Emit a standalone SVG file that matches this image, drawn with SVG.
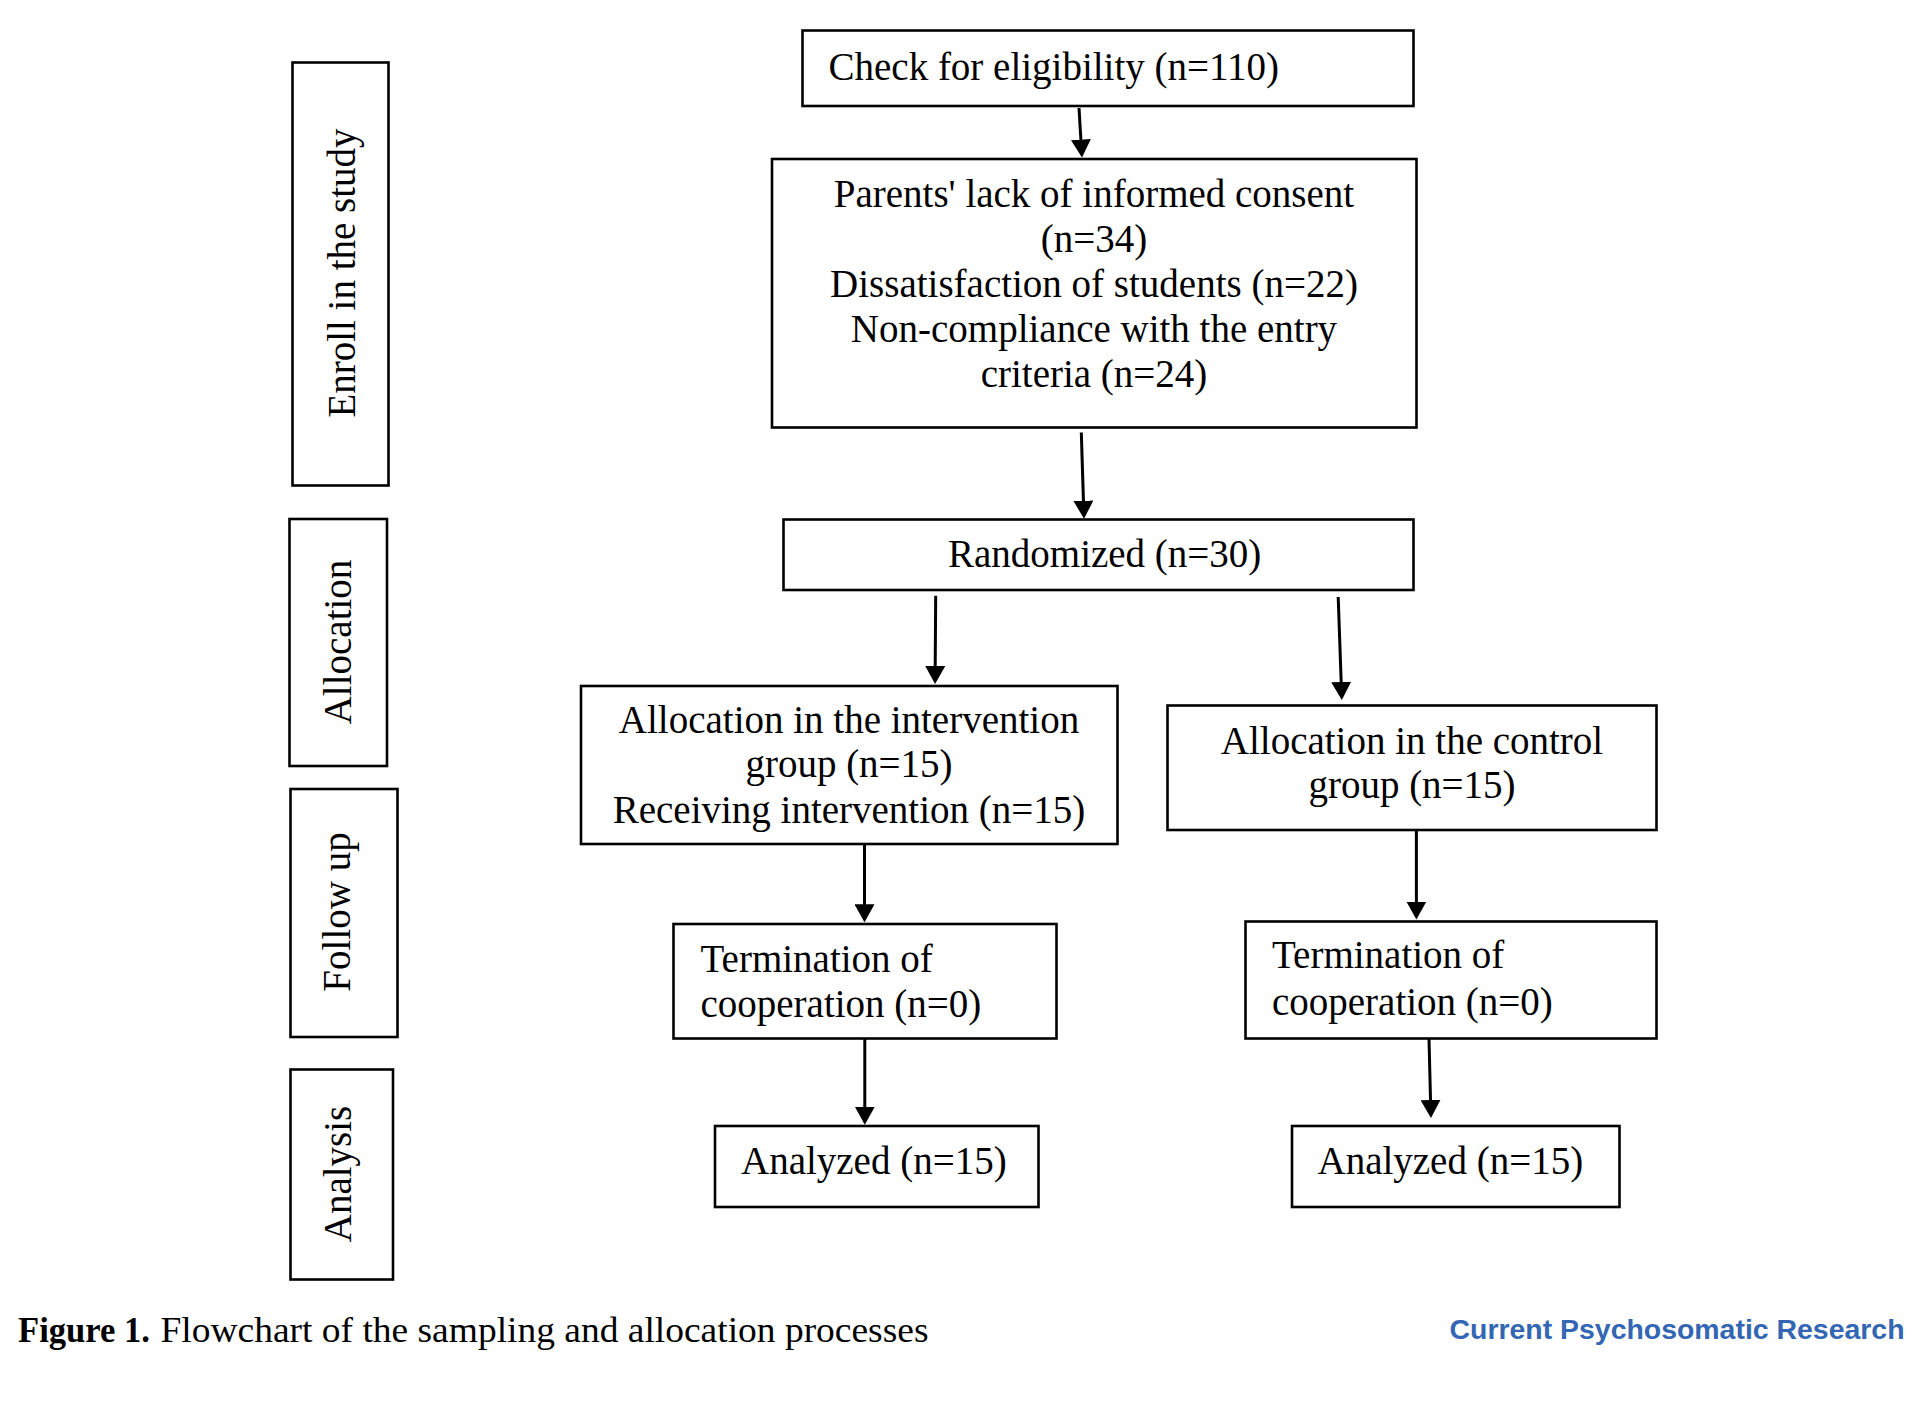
<svg xmlns="http://www.w3.org/2000/svg" width="1927" height="1402" viewBox="0 0 1927 1402">
<style>
.box{fill:#fff;stroke:#000;stroke-width:2.6}
.t{font-family:"Liberation Serif","Times New Roman",serif;font-size:39px;fill:#000}
.m{text-anchor:middle}
.conn{stroke:#000;stroke-width:3;fill:none;marker-end:url(#ah)}
</style>
<defs>
<marker id="ah" viewBox="0 0 18 20" refX="15" refY="10" markerWidth="18" markerHeight="20" markerUnits="userSpaceOnUse" orient="auto">
<path d="M0,0 L18,10 L0,20 Z" fill="#000"/>
</marker>
</defs>
<rect width="1927" height="1402" fill="#fff"/>

<g id="stage-enroll">
<rect class="box" x="292.5" y="62.5" width="96" height="423"/>
<text class="t m" transform="translate(355,273) rotate(-90)">Enroll in the study</text>
</g>
<g id="stage-allocation">
<rect class="box" x="289.5" y="519" width="97.5" height="247"/>
<text class="t m" transform="translate(351,642) rotate(-90)">Allocation</text>
</g>
<g id="stage-followup">
<rect class="box" x="290.5" y="789" width="107" height="248"/>
<text class="t m" transform="translate(350,912) rotate(-90)">Follow up</text>
</g>
<g id="stage-analysis">
<rect class="box" x="290.5" y="1069.5" width="102.5" height="210"/>
<text class="t m" transform="translate(351,1174) rotate(-90)">Analysis</text>
</g>

<g id="check">
<rect class="box" x="802.5" y="30.5" width="611" height="75.5"/>
<text class="t" x="828.5" y="80">Check for eligibility (n=110)</text>
</g>
<g id="excluded">
<rect class="box" x="772" y="159" width="644.5" height="268.5"/>
<text class="t m" x="1094" y="206.5">Parents' lack of informed consent</text>
<text class="t m" x="1094" y="251.5">(n=34)</text>
<text class="t m" x="1094" y="296.5">Dissatisfaction of students (n=22)</text>
<text class="t m" x="1094" y="342">Non-compliance with the entry</text>
<text class="t m" x="1094" y="387">criteria (n=24)</text>
</g>
<g id="randomized">
<rect class="box" x="783.5" y="519.5" width="630" height="70.5"/>
<text class="t" x="948" y="567">Randomized (n=30)</text>
</g>
<g id="intervention">
<rect class="box" x="581" y="686" width="536.5" height="158"/>
<text class="t m" x="849" y="733">Allocation in the intervention</text>
<text class="t m" x="849" y="777">group (n=15)</text>
<text class="t m" x="849" y="823">Receiving intervention (n=15)</text>
</g>
<g id="control">
<rect class="box" x="1167.5" y="705.5" width="489" height="124.5"/>
<text class="t m" x="1412" y="753.5">Allocation in the control</text>
<text class="t m" x="1412" y="798">group (n=15)</text>
</g>
<g id="term-left">
<rect class="box" x="673.5" y="924" width="383" height="114.5"/>
<text class="t" x="700.5" y="972">Termination of</text>
<text class="t" x="700.5" y="1016.5">cooperation (n=0)</text>
</g>
<g id="term-right">
<rect class="box" x="1245.5" y="921.5" width="411" height="117"/>
<text class="t" x="1272" y="968">Termination of</text>
<text class="t" x="1272" y="1014.5">cooperation (n=0)</text>
</g>
<g id="analyzed-left">
<rect class="box" x="715" y="1126" width="323.5" height="81"/>
<text class="t" x="741" y="1174">Analyzed (n=15)</text>
</g>
<g id="analyzed-right">
<rect class="box" x="1292" y="1126" width="327.5" height="81"/>
<text class="t" x="1317.5" y="1174">Analyzed (n=15)</text>
</g>

<g id="connectors">
<line class="conn" x1="1079" y1="108" x2="1081.8" y2="154.6"/>
<line class="conn" x1="1081.3" y1="432.5" x2="1083.9" y2="515.7"/>
<line class="conn" x1="935.7" y1="595.7" x2="935.1" y2="681"/>
<line class="conn" x1="1338.2" y1="597" x2="1341.7" y2="697"/>
<line class="conn" x1="864.5" y1="845" x2="864.5" y2="919.3"/>
<line class="conn" x1="1416.4" y1="830" x2="1416.4" y2="916.6"/>
<line class="conn" x1="864.8" y1="1039" x2="864.8" y2="1121.7"/>
<line class="conn" x1="1429" y1="1039" x2="1430.9" y2="1115"/>
</g>

<g id="caption">
<text x="18" y="1342" font-family="'Liberation Serif','Times New Roman',serif" font-size="36" font-weight="bold" fill="#000" textLength="132" lengthAdjust="spacingAndGlyphs">Figure 1.</text>
<text x="160.5" y="1342" font-family="'Liberation Serif','Times New Roman',serif" font-size="36" fill="#000" textLength="768" lengthAdjust="spacingAndGlyphs">Flowchart of the sampling and allocation processes</text>
<text x="1449.5" y="1339" font-family="'Liberation Sans',Arial,sans-serif" font-size="27" font-weight="bold" fill="#3366b3" textLength="455" lengthAdjust="spacingAndGlyphs">Current Psychosomatic Research</text>
</g>
</svg>
